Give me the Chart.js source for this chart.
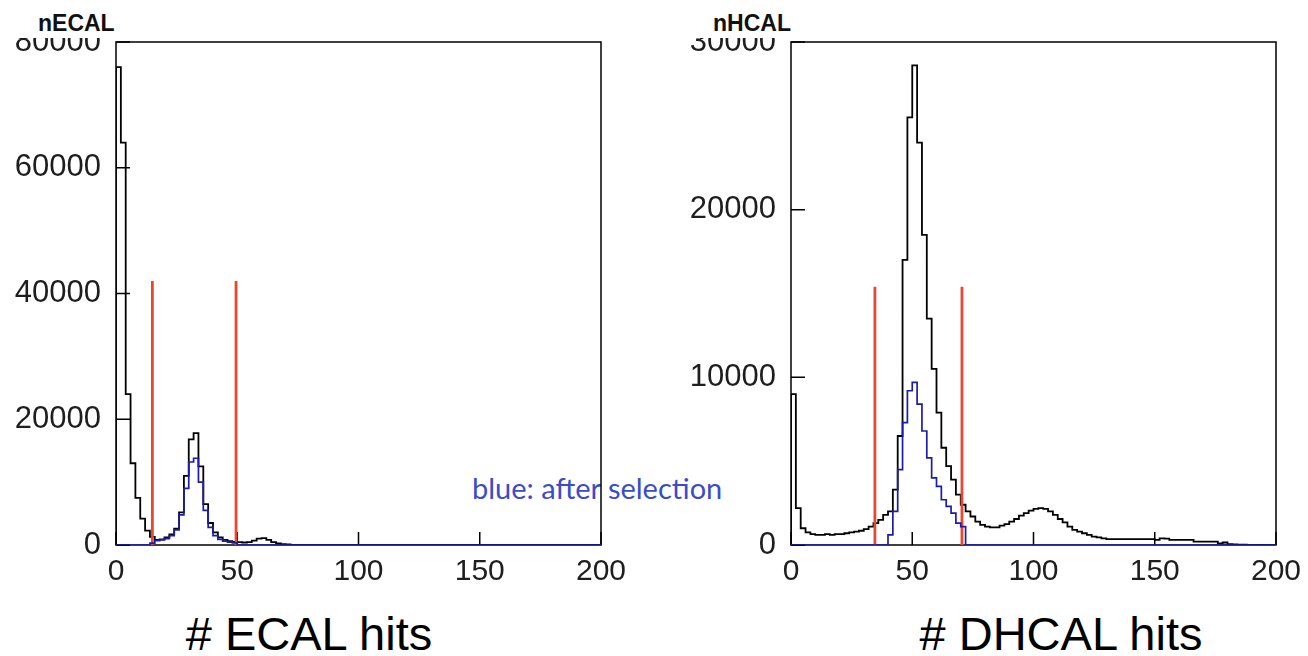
<!DOCTYPE html>
<html>
<head>
<meta charset="utf-8">
<script src="https://cdn.jsdelivr.net/npm/chart.js@4.4.0/dist/chart.umd.min.js"></script>
<style>
    body { margin: 0; background: #fff; width: 1308px; height: 656px; overflow: hidden; position: relative; font-family: 'Liberation Sans', Arial, sans-serif; }
    .box { position: absolute; top: 0; width: 654px; height: 600px; z-index: 2; }
    #ecalBox { left: 0; }
    #hcalBox { left: 654px; }
    .hname { position: absolute; top: 0; height: 38px; background: #fff; z-index: 3; font-weight: bold; font-size: 23px; line-height: 23px; padding-top: 12px; box-sizing: border-box; color: #111; }
    .axtitle { position: absolute; top: 610px; font-size: 47px; line-height: 47px; text-align: center; color: #000; }
    #note { position: absolute; left: 472px; top: 474px; font-family: Lato, 'Open Sans', sans-serif; font-size: 29px; line-height: 28px; color: #3b4cc8; z-index: 1; white-space: nowrap; }
</style>
</head>
<body>
<div class="hname" style="left:10px;width:112px;padding-left:28px;">nECAL</div>
<div class="hname" style="left:688px;width:112px;padding-left:25px;">nHCAL</div>
<div id="note">blue: after selection</div>
<div class="box" id="ecalBox"><canvas id="ecal" width="654" height="600"></canvas></div>
<div class="box" id="hcalBox"><canvas id="hcal" width="654" height="600"></canvas></div>
<div class="axtitle" style="left:0;width:618px;"># ECAL hits</div>
<div class="axtitle" style="left:861px;width:400px;"># DHCAL hits</div>
<script>
// histogram binning: 100 bins of width 2 from 0 to 200
const histMin = 0;
const binWidth = 2;

const xTicks = [0, 50, 100, 150, 200];
const ecalYTicks = [0, 20000, 40000, 60000, 80000];
const hcalYTicks = [0, 10000, 20000, 30000];

// nECAL, all events
const ecalAll = [
    76000, 64000, 24000, 13000, 7500, 4200, 2300, 1300, 800, 900,
    1200, 1700, 2600, 5200, 11000, 16800, 17800, 12500, 6500, 3500,
    2000, 1200, 800, 600, 500, 450, 400, 450, 700, 1000,
    1100, 800, 450, 250, 150, 80, 0, 0, 0, 0,
    0, 0, 0, 0, 0, 0, 0, 0, 0, 0,
    0, 0, 0, 0, 0, 0, 0, 0, 0, 0,
    0, 0, 0, 0, 0, 0, 0, 0, 0, 0,
    0, 0, 0, 0, 0, 0, 0, 0, 0, 0,
    0, 0, 0, 0, 0, 0, 0, 0, 0, 0,
    0, 0, 0, 0, 0, 0, 0, 0, 0, 0,
];

// nECAL, after selection
const ecalSelected = [
    0, 0, 0, 0, 0, 0, 0, 300, 700, 800,
    1000, 1500, 2400, 4800, 9000, 13200, 13800, 10000, 5500, 2800,
    1500, 900, 600, 450, 350, 0, 0, 0, 0, 0,
    0, 0, 0, 0, 0, 0, 0, 0, 0, 0,
    0, 0, 0, 0, 0, 0, 0, 0, 0, 0,
    0, 0, 0, 0, 0, 0, 0, 0, 0, 0,
    0, 0, 0, 0, 0, 0, 0, 0, 0, 0,
    0, 0, 0, 0, 0, 0, 0, 0, 0, 0,
    0, 0, 0, 0, 0, 0, 0, 0, 0, 0,
    0, 0, 0, 0, 0, 0, 0, 0, 0, 0,
];

// nHCAL, all events
const hcalAll = [
    9000, 2200, 1000, 750, 650, 600, 600, 650, 600, 650,
    650, 700, 750, 800, 850, 950, 1100, 1300, 1500, 1800,
    2000, 3300, 6500, 17000, 25500, 28600, 24000, 18500, 13500, 10500,
    7900, 5800, 4700, 3900, 3000, 2400, 2000, 1700, 1400, 1200,
    1100, 1050, 1050, 1150, 1250, 1400, 1550, 1750, 1900, 2050,
    2150, 2200, 2150, 2000, 1800, 1550, 1350, 1100, 900, 800,
    700, 600, 500, 450, 400, 350, 350, 350, 350, 350,
    350, 350, 350, 350, 350, 300, 400, 380, 300, 300,
    300, 300, 300, 200, 200, 200, 200, 200, 100, 150,
    50, 30, 20, 20, 10, 10, 0, 0, 0, 0,
];

// nHCAL, after selection
const hcalSelected = [
    0, 0, 0, 0, 0, 0, 0, 0, 0, 0,
    0, 0, 0, 0, 0, 0, 0, 0, 0, 0,
    600, 2000, 4500, 7300, 9200, 9700, 8400, 6800, 5200, 4000,
    3500, 2700, 2300, 1900, 1300, 1100, 0, 0, 0, 0,
    0, 0, 0, 0, 0, 0, 0, 0, 0, 0,
    0, 0, 0, 0, 0, 0, 0, 0, 0, 0,
    0, 0, 0, 0, 0, 0, 0, 0, 0, 0,
    0, 0, 0, 0, 0, 0, 0, 0, 0, 0,
    0, 0, 0, 0, 0, 0, 0, 0, 0, 0,
    0, 0, 0, 0, 0, 0, 0, 0, 0, 0,
];

// selection cuts (red lines) and their drawn height
const ecalCuts = [15, 49.5];
const ecalCutHeight = 42000;
const hcalCuts = [34.6, 70.5];
const hcalCutHeight = 15400;

Chart.defaults.font.family = "'Liberation Sans', Arial, sans-serif";

// bin centres with middle stepping put the steps on the bin edges
function histPoints(counts) {
    const pts = [{ x: histMin, y: 0 }, { x: histMin, y: counts[0] }];
    counts.forEach((c, i) => pts.push({ x: histMin + (i + 0.5) * binWidth, y: c }));
    pts.push({ x: histMin + counts.length * binWidth, y: counts[counts.length - 1] });
    return pts;
}

// ROOT-style frame with inward tick marks
const frameTicks = {
    id: 'frameTicks',
    beforeDatasetsDraw(chart) {
        const { ctx, chartArea: a, scales: { x, y } } = chart;
        ctx.save();
        ctx.strokeStyle = '#000';
        ctx.lineWidth = 1.5;
        ctx.strokeRect(a.left, a.top, a.right - a.left, a.bottom - a.top);
        ctx.beginPath();
        x.ticks.forEach((t) => {
            const px = x.getPixelForValue(t.value);
            ctx.moveTo(px, a.bottom);
            ctx.lineTo(px, a.bottom - 13);
        });
        y.ticks.forEach((t) => {
            const py = y.getPixelForValue(t.value);
            ctx.moveTo(a.left, py);
            ctx.lineTo(a.left + 14, py);
        });
        ctx.stroke();
        ctx.restore();
    }
};

function makeChart(canvasId, all, selected, cuts, cutHeight, yMax, yTicks, axisWidth, rightPad) {
    const datasets = [
        {
            label: 'after selection',
            data: histPoints(selected),
            stepped: 'middle',
            borderColor: '#1c1ca8',
            borderWidth: 1.7,
            pointRadius: 0,
        },
        ...cuts.map((c) => ({
            label: 'cut',
            data: [{ x: c, y: 0 }, { x: c, y: cutHeight }],
            borderColor: '#e8482e',
            borderWidth: 2.8,
            pointRadius: 0,
        })),
        {
            label: 'all',
            data: histPoints(all),
            stepped: 'middle',
            borderColor: '#000',
            borderWidth: 1.8,
            pointRadius: 0,
        },
    ];

    return new Chart(document.getElementById(canvasId), {
        type: 'line',
        data: { datasets: datasets },
        plugins: [frameTicks],
        options: {
            responsive: false,
            animation: false,
            layout: { padding: { left: 0, top: 42, right: rightPad, bottom: 0 } },
            plugins: { legend: { display: false }, tooltip: { enabled: false } },
            scales: {
                x: {
                    type: 'linear',
                    min: 0,
                    max: 200,
                    afterBuildTicks: (s) => { s.ticks = xTicks.map((v) => ({ value: v })); },
                    afterFit: (s) => { s.height = 55; },
                    grid: { display: false },
                    border: { display: false },
                    ticks: {
                        color: '#1e1e1e',
                        font: { size: 30 },
                        padding: 1,
                        maxRotation: 0,
                        autoSkip: false,
                        callback: (v) => String(v),
                    },
                },
                y: {
                    type: 'linear',
                    min: 0,
                    max: yMax,
                    afterBuildTicks: (s) => { s.ticks = yTicks.map((v) => ({ value: v })); },
                    afterFit: (s) => { s.width = axisWidth; },
                    grid: { display: false },
                    border: { display: false },
                    ticks: {
                        color: '#1e1e1e',
                        font: { size: 31 },
                        padding: 7,
                        autoSkip: false,
                        callback: (v) => String(v),
                    },
                },
            },
        },
    });
}

makeChart('ecal', ecalAll, ecalSelected, ecalCuts, ecalCutHeight, 80000, ecalYTicks, 116, 53);
makeChart('hcal', hcalAll, hcalSelected, hcalCuts, hcalCutHeight, 30000, hcalYTicks, 137, 32);
</script>
</body>
</html>
